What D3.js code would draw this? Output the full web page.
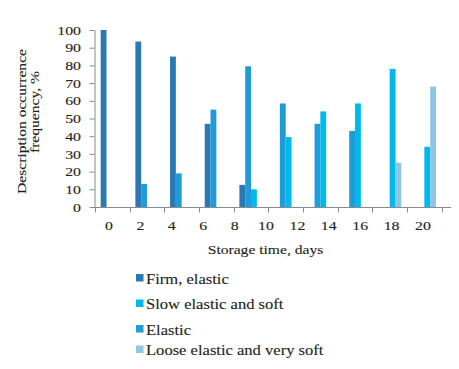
<!DOCTYPE html>
<html>
<head>
<meta charset="utf-8">
<script src="https://cdn.jsdelivr.net/npm/d3@7"></script>
<style>
  html, body { margin: 0; padding: 0; background: #fff; }
  svg text { font-family: "Liberation Serif", "Times New Roman", serif; fill: #231f20; stroke: #231f20; stroke-width: 0.12px; }
</style>
</head>
<body>
<svg id="chart" width="459" height="369"></svg>
<script>
// ---- data ----
const groups = ["1", "2", "3", "4", "5", "6", "7", "8", "9", "10"];
const seriesNames = ["Firm, elastic", "Elastic", "Slow elastic and soft", "Loose elastic and very soft"];
const firmElastic  = [100, 93.5, 85, 47, 12.5, null, null, null, null, null];
const elastic      = [null, 13, 19, 55, 79.5, 58.5, 47, 43, null, null];
const slowElastic  = [null, null, null, null, 10, 39.5, 54, 58.5, 78, 34];
const looseElastic = [null, null, null, null, null, null, null, null, 25, 68];
const xTickLabels = ["0", "2", "4", "6", "8", "10", "12", "14", "16", "18", "20"];
const yTicks = [0, 10, 20, 30, 40, 50, 60, 70, 80, 90, 100];
const legendOrder = ["Firm, elastic", "Slow elastic and soft", "Elastic", "Loose elastic and very soft"];

// ---- styles / layout ----
const colors = {
  "Firm, elastic": "#2a78b4",
  "Elastic": "#1f9bd7",
  "Slow elastic and soft": "#00b9ec",
  "Loose elastic and very soft": "#8fc6e6"
};
const values = {
  "Firm, elastic": firmElastic,
  "Elastic": elastic,
  "Slow elastic and soft": slowElastic,
  "Loose elastic and very soft": looseElastic
};
const plot = { left: 95, right: 441.7, top: 30, bottom: 207 };
const axisColor = "#8a8a8a";
const SX = 1.2; // horizontal stretch of the serif text

const svg = d3.select("#chart");

function placeText(sel, x, y, sx, rot) {
  return sel.attr("x", 0).attr("y", 0)
    .attr("transform", `translate(${x},${y})` + (rot ? ` rotate(${rot})` : "") + ` scale(${sx},1)`);
}

const y = d3.scaleLinear().domain([0, 100]).range([plot.bottom, plot.top]);
const x = d3.scaleBand().domain(groups).range([plot.left, plot.right]).padding(0);
const xs = d3.scaleBand().domain(seriesNames).range([0, x.bandwidth()]).paddingInner(0).paddingOuter(0.98);
const xLab = d3.scaleLinear().domain([0, xTickLabels.length - 1]).range([109, 423]);

// bars
const barData = [];
seriesNames.forEach(s => {
  values[s].forEach((v, i) => {
    if (v !== null) barData.push({ s, g: groups[i], v });
  });
});
svg.append("g").selectAll("rect").data(barData).join("rect")
  .attr("x", d => x(d.g) + xs(d.s))
  .attr("y", d => y(d.v))
  .attr("width", xs.bandwidth())
  .attr("height", d => y(0) - y(d.v))
  .attr("fill", d => colors[d.s]);

// y axis
const yAxis = d3.axisLeft(y).tickValues(yTicks).tickSize(5).tickSizeOuter(0).tickFormat("");
const gy = svg.append("g").attr("transform", `translate(${plot.left - 0.5},0)`).call(yAxis);
gy.select(".domain").attr("stroke", axisColor);
gy.selectAll(".tick line").attr("stroke", axisColor);
gy.selectAll(".tick text").remove();
svg.append("g").selectAll("text").data(yTicks).join("text")
  .attr("text-anchor", "end")
  .attr("font-size", 13)
  .each(function (d) { placeText(d3.select(this), 81, y(d) + 4.6, 1.22); })
  .text(d => d);

// x axis: ticks at category boundaries
const boundaries = groups.map(g => x(g)).concat([x(groups[groups.length - 1]) + x.bandwidth()]);
const gx = svg.append("g");
gx.append("line")
  .attr("x1", plot.left - 1).attr("x2", plot.right + 9.5)
  .attr("y1", plot.bottom + 0.5).attr("y2", plot.bottom + 0.5)
  .attr("stroke", axisColor);
gx.selectAll("line.tk").data(boundaries).join("line").attr("class", "tk")
  .attr("x1", d => Math.round(d) + 0.5).attr("x2", d => Math.round(d) + 0.5)
  .attr("y1", plot.bottom).attr("y2", plot.bottom + 5.5)
  .attr("stroke", axisColor);
gx.selectAll("text").data(xTickLabels).join("text")
  .attr("text-anchor", "middle")
  .attr("font-size", 13)
  .each(function (d, i) { placeText(d3.select(this), xLab(i), 230, 1.22); })
  .text(d => d);

// axis titles
placeText(svg.append("text")
  .attr("text-anchor", "middle")
  .attr("font-size", 13), 265.5, 254, SX)
  .text("Storage time, days");

placeText(svg.append("text").attr("text-anchor", "middle").attr("font-size", 13), 26, 121.5, SX, -90)
  .text("Description occurrence");
placeText(svg.append("text").attr("text-anchor", "middle").attr("font-size", 13), 38.5, 112, SX, -90)
  .text("frequency, %");

// legend
const legendY = [274, 299.5, 325, 345.5];
const lg = svg.append("g").selectAll("g").data(legendOrder).join("g")
  .attr("transform", (d, i) => `translate(136,${legendY[i]})`);
lg.append("rect").attr("width", 7.5).attr("height", 7.5).attr("fill", d => colors[d]).attr("stroke", "none");
lg.append("text").attr("font-size", 13.8)
  .each(function () { placeText(d3.select(this), 10, 9.8, SX); })
  .text(d => d);
</script>
</body>
</html>
